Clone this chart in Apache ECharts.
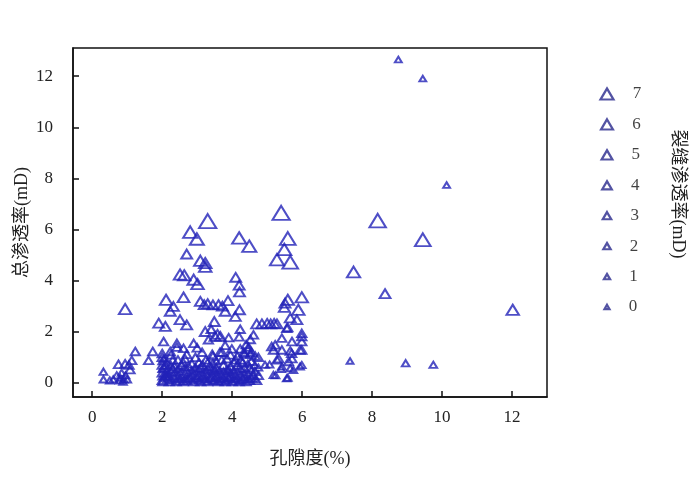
<!DOCTYPE html>
<html>
<head>
<meta charset="utf-8">
<script src="https://cdn.jsdelivr.net/npm/echarts@6/dist/echarts.min.js"></script>
<style>html,body{margin:0;padding:0;background:#fff}#c{width:700px;height:477px}</style>
</head>
<body>
<div id="c"></div>
<script>
// [porosity %, total permeability mD, fracture permeability mD]
const outliers = [
  [8.75,12.65,0.5],[9.45,11.9,0.5],[10.13,7.74,0.5],[8.16,6.35,6.5],[9.45,5.6,6],
  [7.47,4.34,4.5],[8.37,3.49,3],[12.02,2.86,4],[7.37,0.86,0.5],[8.96,0.77,1],
  [9.75,0.71,1],[0.94,2.89,4]
];
const highCluster = [
  [3.3,6.33,7],[5.4,6.65,7],[2.8,5.9,5],[2.99,5.63,5],[4.2,5.67,5],[4.49,5.35,5],
  [5.59,5.65,6],[5.49,5.22,5],[5.28,4.82,5],[5.66,4.72,6],[2.7,5.04,3],[3.09,4.78,4],
  [3.23,4.69,4],[3.23,4.54,4],[2.51,4.24,4],[2.63,4.21,4],[2.9,4.04,4],[3.01,3.87,4],
  [4.1,4.13,3],[4.2,3.82,3],[4.21,3.56,3],[2.11,3.25,4],[2.61,3.35,3.5],[3.09,3.19,3],
  [3.2,3.06,3],[3.61,3.06,3],[3.88,3.22,3],[3.8,2.8,3],[2.32,2.99,3],[2.23,2.8,3],
  [4.21,2.86,3],[4.09,2.6,3],[5.59,3.25,4],[5.99,3.35,4],[5.49,2.95,3],[5.89,2.86,4],
  [5.66,2.54,3],[3.45,3.05,3],[3.3,3.1,3],[3.72,3.0,3],[5.51,3.12,3]
];
const midCluster = [
  [1.9,2.34,3],[2.09,2.21,3],[2.51,2.47,3],[2.7,2.27,3],[3.49,2.4,3],[4.23,2.1,2],
  [4.7,2.31,3],[4.85,2.31,3],[5.0,2.33,3],[5.1,2.31,3],[5.2,2.33,3],[5.28,2.31,3],
  [5.59,2.17,2],[5.99,1.94,2],[5.99,1.81,2],[3.23,2.01,3],[2.04,1.62,2],[3.51,1.82,3],
  [3.66,1.82,3],[3.58,1.9,3],[3.32,1.69,2],[4.61,1.88,2],[5.42,1.75,2],[5.23,1.49,2],
  [5.71,1.62,2],[5.99,1.62,2],[5.94,1.29,2],[5.66,1.25,2],[5.18,1.29,2],[5.13,1.42,2],
  [2.42,1.55,2],[2.9,1.55,2],[3.0,1.37,2],[2.61,1.35,2],[2.23,1.23,2],[1.73,1.23,2],
  [1.61,0.88,2],[1.23,1.23,2],[1.13,0.88,2],[2.42,1.4,2],[2.7,1.12,2],[3.14,1.2,2],
  [3.43,1.12,2],[3.71,1.2,2],[3.8,1.47,2],[3.99,1.33,2],[4.23,1.33,2],[4.33,1.2,2],
  [4.47,1.4,2],[4.52,1.12,2],[4.66,1.05,2],[4.2,1.8,2],[4.4,1.5,2],[4.52,1.7,2],
  [3.9,1.77,2],[3.4,2.1,2],[5.85,2.47,3],[5.56,2.14,2],[5.42,1.29,2],[5.7,1.16,2],
  [5.99,1.29,2]
];
const lowLeft = [
  [0.94,0.75,2],[0.75,0.73,2],[0.32,0.44,1],[0.32,0.14,1],[0.6,0.14,1],[0.8,0.2,1],
  [0.9,0.14,1],[1.0,0.14,1],[0.84,0.4,1],[1.08,0.52,2],[0.7,0.3,1],[0.95,0.3,1],
  [1.05,0.7,2],[0.5,0.1,1],[0.88,0.05,1],[0.78,0.1,1]
];
const lowRight = [
  [5.07,0.72,1],[5.24,0.3,1],[5.4,0.55,1],[5.59,0.2,1],[5.66,0.58,1],[5.99,0.7,1],
  [5.33,0.95,2],[5.71,0.95,2],[5.28,0.9,2],[5.61,0.84,2],[4.94,0.71,1],[5.42,0.64,1],
  [5.94,0.64,1],[5.18,0.31,1],[5.56,0.18,1],[5.75,0.51,1]
];
const lowDense = [
  [2.0,0.1,2],[2.0,0.25,1],[2.0,0.4,2],[2.0,0.55,1],[2.0,0.7,2],[2.0,0.85,1],[2.0,1.0,2],[2.0,1.15,2],
  [2.05,0.2,1],[2.05,0.6,2],[2.05,0.95,1],
  [2.15,0.15,2],[2.15,0.35,1],[2.15,0.5,2],[2.15,0.8,1],
  [2.25,0.1,1],[2.25,0.45,2],[2.25,0.7,1],[2.25,1.1,2],
  [2.35,0.2,2],[2.35,0.4,1],[2.35,0.65,2],
  [2.45,0.15,1],[2.45,0.3,2],[2.45,0.55,1],[2.45,0.9,2],
  [2.55,0.25,2],[2.55,0.45,1],[2.55,0.7,2],
  [2.65,0.15,1],[2.65,0.35,2],[2.65,0.6,1],[2.65,0.95,2],
  [2.75,0.2,2],[2.75,0.4,1],[2.75,0.65,2],
  [2.85,0.1,1],[2.85,0.3,2],[2.85,0.5,1],[2.85,0.75,2],
  [2.95,0.2,2],[2.95,0.45,1],[2.95,0.6,2],[2.95,1.0,2],
  [3.05,0.1,1],[3.05,0.3,2],[3.05,0.55,1],[3.05,0.8,2],
  [3.15,0.25,2],[3.15,0.4,1],[3.15,0.7,2],
  [3.25,0.15,1],[3.25,0.35,2],[3.25,0.5,1],[3.25,0.9,2],
  [3.35,0.2,2],[3.35,0.45,1],[3.35,0.65,2],
  [3.45,0.1,1],[3.45,0.3,2],[3.45,0.55,1],[3.45,0.75,2],[3.45,1.05,2],
  [3.55,0.25,2],[3.55,0.4,1],[3.55,0.6,2],[3.55,0.85,1],
  [3.65,0.15,1],[3.65,0.35,2],[3.65,0.5,1],[3.65,1.2,2],
  [3.75,0.2,2],[3.75,0.45,1],[3.75,0.7,2],
  [3.85,0.1,1],[3.85,0.3,2],[3.85,0.55,1],[3.85,0.95,2],
  [3.95,0.25,2],[3.95,0.4,1],[3.95,0.65,2],[3.95,1.1,2],
  [4.05,0.15,1],[4.05,0.35,2],[4.05,0.5,1],[4.05,0.8,2],
  [4.15,0.2,2],[4.15,0.45,1],[4.15,0.7,2],[4.15,1.05,2],
  [4.25,0.1,1],[4.25,0.3,2],[4.25,0.55,1],[4.25,0.9,2],
  [4.35,0.25,2],[4.35,0.4,1],[4.35,0.6,2],[4.35,1.15,2],
  [4.45,0.15,1],[4.45,0.35,2],[4.45,0.75,1],[4.45,1.3,2],
  [4.55,0.2,2],[4.55,0.5,1],[4.55,0.85,2],[4.55,1.2,2],
  [4.65,0.15,1],[4.65,0.45,2],[4.65,0.7,1],
  [4.75,0.3,2],[4.75,0.6,1],[4.75,1.0,2]
];
const lowDenseExtra = [
  [2.02,0.05,2],[2.1,0.3,2],[2.1,0.7,2],[2.2,0.05,2],[2.2,0.25,2],[2.3,0.55,2],[2.3,0.9,2],
  [2.4,0.05,2],[2.5,0.1,2],[2.6,0.05,2],[2.7,0.1,2],[2.8,0.2,2],[2.9,0.05,2],[3.0,0.2,2],
  [3.1,0.05,2],[3.2,0.1,2],[3.3,0.05,2],[3.4,0.2,2],[3.5,0.1,2],[3.6,0.05,2],[3.7,0.1,2],
  [3.8,0.05,2],[3.9,0.2,2],[4.0,0.05,2],[4.1,0.1,2],[4.2,0.05,2],[4.3,0.15,2],[4.4,0.05,2],
  [4.5,0.1,2],[4.6,0.3,2],[4.7,0.1,2],[3.1,0.6,2],[3.5,0.5,2],[3.9,0.5,2],[4.3,0.8,2],
  [2.6,0.8,2],[3.7,0.9,2],[4.1,0.9,2],[4.5,0.6,2],[3.3,0.8,2]
];
const xTicks = [0,2,4,6,8,10,12];
const yTicks = [0,2,4,6,8,10,12];
const legendValues = [7,6,5,4,3,2,1,0];

const serif = '"Liberation Serif","Noto Sans CJK SC",serif';
const markColor = '#2222b8';
const allPoints = [].concat(lowDense, lowDenseExtra, lowLeft, lowRight, midCluster, highCluster, outliers);

const chart = echarts.init(document.getElementById('c'), null, {renderer: 'canvas'});
chart.setOption({
  animation: false,
  backgroundColor: '#fff',
  grid: [
    {left: 73, top: 48, right: 153, bottom: 80, show: true, borderColor: '#111', borderWidth: 1.5, backgroundColor: 'transparent'},
    {left: 597, top: 94, width: 20, height: 213}
  ],
  xAxis: [{
    type: 'value', gridIndex: 0, min: -0.55, max: 13,
    name: '孔隙度(%)', nameLocation: 'middle', nameGap: 53,
    nameTextStyle: {fontFamily: serif, fontSize: 18, color: '#222'},
    axisLine: {show: true, onZero: false, lineStyle: {color: '#111', width: 1.5}},
    axisTick: {show: true, inside: true, length: 6, customValues: xTicks, lineStyle: {color: '#111', width: 1.5}},
    axisLabel: {customValues: xTicks, fontFamily: serif, fontSize: 17, color: '#222', margin: 12},
    splitLine: {show: false}
  }, {
    type: 'value', gridIndex: 1, min: 0, max: 1, show: false
  }],
  yAxis: [{
    type: 'value', gridIndex: 0, min: -0.55, max: 13.1,
    name: '总渗透率(mD)', nameLocation: 'middle', nameGap: 42, nameMoveOverlap: false,
    nameTextStyle: {fontFamily: serif, fontSize: 18, color: '#222'},
    axisLine: {show: true, onZero: false, lineStyle: {color: '#111', width: 1.5}},
    axisTick: {show: true, inside: true, length: 6, customValues: yTicks, lineStyle: {color: '#111', width: 1.5}},
    axisLabel: {customValues: yTicks, fontFamily: serif, fontSize: 17, color: '#222', margin: 20},
    splitLine: {show: false}
  }, {
    type: 'value', gridIndex: 1, min: 0, max: 7, show: false
  }],
  graphic: [{
    type: 'text', x: 678, y: 194, rotation: -Math.PI / 2,
    style: {text: '裂缝渗透率(mD)', font: '18px ' + serif, fill: '#222',
      textAlign: 'center', textVerticalAlign: 'middle', align: 'center', verticalAlign: 'middle'}
  }],
  series: [{
    type: 'scatter', xAxisIndex: 0, yAxisIndex: 0,
    symbol: 'triangle',
    symbolSize: function (d) { const s = 6 + d[2] * 1.6; return [s, s * 0.82]; },
    itemStyle: {color: 'rgba(255,255,255,0)', borderColor: markColor, borderWidth: 2},
    data: allPoints, silent: true
  }, {
    type: 'scatter', xAxisIndex: 1, yAxisIndex: 1,
    symbol: 'triangle',
    symbolSize: function (d) { const s = 5 + d[2] * 1.15; return [s, s * 0.85]; },
    itemStyle: {color: 'rgba(255,255,255,0)', borderColor: '#28288c', borderWidth: 2.2},
    label: {show: true, position: 'right', distance: 18, formatter: function (p) { return String(p.value[2]); },
      fontFamily: serif, fontSize: 17, color: '#111'},
    data: legendValues.map(function (v) { return [0.5, v, v]; }), silent: true
  }]
});
</script>
</body>
</html>
